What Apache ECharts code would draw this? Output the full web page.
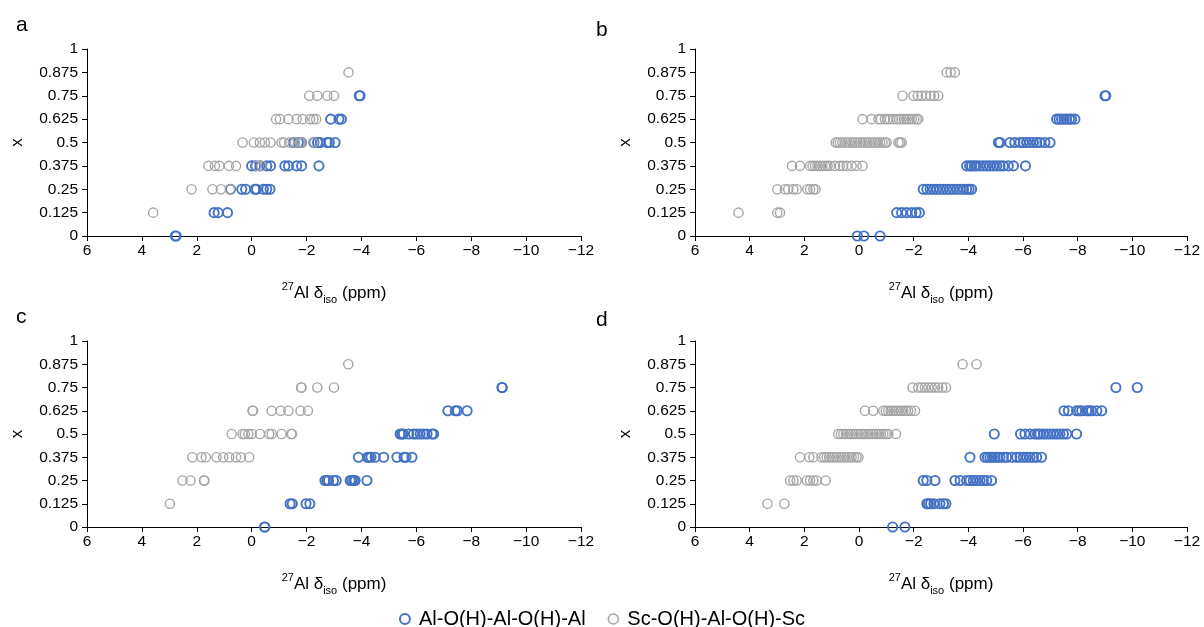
<!DOCTYPE html>
<html>
<head>
<meta charset="utf-8">
<script src="https://cdn.jsdelivr.net/npm/echarts@6/dist/echarts.min.js"></script>
<style>
  html, body { margin: 0; padding: 0; background: #fff; }
  #chart { width: 1204px; height: 627px; }
</style>
</head>
<body>
<div id="chart"></div>
<script>
// Composition levels x (y axis) and their tick labels
const xLevels = [0, 0.125, 0.25, 0.375, 0.5, 0.625, 0.75, 0.875, 1];
const yTickLabels = ['0', '0.125', '0.25', '0.375', '0.5', '0.625', '0.75', '0.875', '1'];
const seriesNames = ['Al-O(H)-Al-O(H)-Al', 'Sc-O(H)-Al-O(H)-Sc'];
const panelLetters = ['a', 'b', 'c', 'd'];

// 27Al isotropic shifts (ppm); one row per composition level x = 0 ... 1
const aAl = [
  [2.78, 2.75],
  [1.37, 1.22, 0.88],
  [0.77, 0.36, 0.22, -0.12, -0.18, -0.43, -0.55, -0.67],
  [0.0, -0.14, -0.30, -0.55, -0.69, -1.21, -1.34, -1.64, -1.82, -2.45],
  [-1.52, -1.70, -1.82, -2.27, -2.40, -2.50, -2.75, -2.83, -3.04],
  [-2.88, -3.18, -3.27],
  [-3.92, -3.95],
  [],
  []
];
const aSc = [
  [],
  [3.59],
  [2.19, 1.43, 1.12, 0.79],
  [1.58, 1.34, 1.18, 0.83, 0.57, -0.18, -0.36],
  [0.33, -0.08, -0.30, -0.48, -0.69, -1.09, -1.18, -1.37, -1.58, -1.76, -1.82, -2.25],
  [-0.89, -1.03, -1.34, -1.64, -1.86, -2.13, -2.25, -2.35],
  [-2.10, -2.39, -2.76, -3.00],
  [-3.53],
  []
];

const bAl = [
  [0.06, -0.18, -0.77],
  [-1.38, -1.56, -1.74, -1.93, -2.09, -2.21],
  [-2.35, -2.48, -2.60, -2.72, -2.84, -2.96, -3.08, -3.21, -3.33, -3.45, -3.58, -3.70, -3.82, -3.94, -4.03, -4.12],
  [-3.94, -4.05, -4.12, -4.22, -4.30, -4.42, -4.55, -4.67, -4.79, -4.92, -5.04, -5.16, -5.28, -5.46, -5.65, -6.09],
  [-5.10, -5.16, -5.52, -5.70, -5.89, -6.01, -6.13, -6.25, -6.38, -6.50, -6.62, -6.80, -6.99],
  [-7.23, -7.32, -7.41, -7.50, -7.59, -7.70, -7.78, -7.90],
  [-9.00, -9.03],
  [],
  []
];
const bSc = [
  [],
  [4.41, 2.99, 2.89],
  [2.99, 2.71, 2.59, 2.40, 2.28, 1.89, 1.79, 1.67, 1.59],
  [2.45, 2.16, 1.79, 1.70, 1.61, 1.52, 1.43, 1.34, 1.24, 1.15, 1.06, 0.88, 0.70, 0.58, 0.45, 0.27, 0.09, -0.13],
  [0.85, 0.78, 0.70, 0.61, 0.51, 0.42, 0.33, 0.24, 0.15, 0.06, -0.04, -0.13, -0.22, -0.31, -0.40, -0.50, -0.59, -0.68, -0.77, -0.86, -0.95, -1.01, -1.44, -1.50, -1.56],
  [-0.13, -0.46, -0.71, -0.80, -0.95, -1.04, -1.13, -1.25, -1.38, -1.47, -1.56, -1.65, -1.74, -1.83, -1.93, -2.02, -2.11, -2.17],
  [-1.59, -1.99, -2.15, -2.29, -2.45, -2.62, -2.75, -2.90],
  [-3.21, -3.35, -3.51],
  []
];

const cAl = [
  [-0.48, -0.47],
  [-1.40, -1.48, -1.98, -2.12],
  [-2.67, -2.74, -2.80, -2.98, -3.08, -3.59, -3.65, -3.72, -3.77, -4.20],
  [-3.89, -4.22, -4.28, -4.35, -4.50, -4.81, -5.29, -5.55, -5.62, -5.84],
  [-5.41, -5.47, -5.53, -5.72, -5.90, -6.02, -6.14, -6.26, -6.39, -6.57, -6.63],
  [-7.15, -7.42, -7.50, -7.85],
  [-9.12, -9.13],
  [],
  []
];
const cSc = [
  [],
  [2.98],
  [2.52, 2.23, 1.74, 1.72],
  [2.16, 1.83, 1.67, 1.28, 1.04, 0.82, 0.57, 0.39, 0.09],
  [0.73, 0.33, 0.25, 0.12, 0.00, -0.30, -0.64, -0.73, -1.09, -1.44, -1.47],
  [-0.03, -0.05, -0.73, -1.06, -1.34, -1.78, -2.05],
  [-1.80, -1.82, -2.39, -3.00],
  [-3.52],
  []
];

const dAl = [
  [-1.23, -1.68],
  [-2.48, -2.54, -2.62, -2.74, -2.96, -3.09, -3.18],
  [-2.35, -2.48, -2.78, -3.51, -3.70, -3.94, -4.06, -4.18, -4.30, -4.43, -4.55, -4.67, -4.85],
  [-4.06, -4.61, -4.70, -4.79, -4.88, -4.98, -5.07, -5.16, -5.28, -5.40, -5.59, -5.77, -5.89, -6.01, -6.13, -6.26, -6.38, -6.50, -6.68],
  [-4.95, -5.91, -6.07, -6.26, -6.44, -6.53, -6.62, -6.75, -6.87, -6.99, -7.11, -7.23, -7.35, -7.48, -7.60, -7.96],
  [-7.50, -7.66, -7.96, -8.06, -8.15, -8.33, -8.42, -8.51, -8.70, -8.88],
  [-9.40, -10.18],
  [],
  []
];
const dSc = [
  [],
  [3.35, 2.73],
  [2.52, 2.40, 2.28, 1.91, 1.79, 1.67, 1.55, 1.22],
  [2.16, 1.82, 1.67, 1.37, 1.27, 1.18, 1.09, 1.00, 0.91, 0.82, 0.72, 0.63, 0.54, 0.45, 0.36, 0.27, 0.18, 0.09, 0.02],
  [0.76, 0.66, 0.57, 0.48, 0.39, 0.30, 0.21, 0.12, 0.02, -0.07, -0.16, -0.25, -0.34, -0.43, -0.52, -0.62, -0.71, -0.80, -0.89, -0.98, -1.07, -1.35],
  [-0.22, -0.52, -0.89, -0.98, -1.07, -1.16, -1.26, -1.35, -1.44, -1.53, -1.62, -1.71, -1.80, -1.90, -2.05],
  [-1.96, -2.17, -2.30, -2.41, -2.54, -2.66, -2.78, -2.90, -3.05, -3.18],
  [-3.79, -4.30],
  []
];

const panels = [[aAl, aSc], [bAl, bSc], [cAl, cSc], [dAl, dSc]];

const BLUE = '#4472C4';
const GREY = '#A5A5A5';
const FONT = '"Liberation Sans", Arial, sans-serif';

// Plot areas of the 2 x 2 layout
const grids = [
  { left: 87, top: 49, width: 494, height: 187 },
  { left: 695, top: 49, width: 492, height: 187 },
  { left: 87, top: 341, width: 494, height: 186 },
  { left: 695, top: 341, width: 492, height: 186 }
];

function toPoints(rows) {
  const pts = [];
  rows.forEach((vals, k) => vals.forEach(v => pts.push([v, xLevels[k]])));
  return pts;
}

const axisLineStyle = { color: '#000', width: 1 };

const xAxes = grids.map((g, i) => ({
  gridIndex: i,
  type: 'value',
  min: -12, max: 6, interval: 2,
  inverse: true,
  splitLine: { show: false },
  axisLine: { show: true, onZero: false, lineStyle: axisLineStyle },
  axisTick: { show: true, inside: false, length: 5, lineStyle: axisLineStyle },
  axisLabel: {
    color: '#000', fontSize: 15.5, fontFamily: FONT, margin: 7,
    formatter: v => (v < 0 ? '\u2212' + (-v) : String(v))
  },
  name: '{sup|27}{m|Al δ}{sub|iso}{m| (ppm)}',
  nameLocation: 'middle',
  nameGap: 45,
  nameTextStyle: {
    color: '#000', fontFamily: FONT,
    rich: {
      m: { fontSize: 17, fontFamily: FONT, color: '#000', lineHeight: 24 },
      sup: { fontSize: 11, fontFamily: FONT, color: '#000', lineHeight: 12, verticalAlign: 'top' },
      sub: { fontSize: 11, fontFamily: FONT, color: '#000', lineHeight: 12, verticalAlign: 'bottom' }
    }
  }
}));

const yAxes = grids.map((g, i) => ({
  gridIndex: i,
  type: 'value',
  min: 0, max: 1, interval: 0.125,
  splitLine: { show: false },
  axisLine: { show: true, onZero: false, lineStyle: axisLineStyle },
  axisTick: { show: true, inside: false, length: 5, lineStyle: axisLineStyle },
  axisLabel: {
    color: '#000', fontSize: 15.5, fontFamily: FONT, margin: 9,
    formatter: v => yTickLabels[Math.round(v / 0.125)]
  },
  name: 'x',
  nameLocation: 'middle',
  nameGap: 61,
  nameTextStyle: { color: '#000', fontSize: 17, fontFamily: FONT }
}));

const series = [];
panels.forEach((pair, i) => {
  pair.forEach((rows, s) => {
    series.push({
      type: 'scatter',
      name: seriesNames[s],
      xAxisIndex: i,
      yAxisIndex: i,
      symbol: 'circle',
      symbolSize: 9.2,
      itemStyle: {
        color: 'rgba(255,255,255,0)',
        borderColor: s === 0 ? BLUE : GREY,
        borderWidth: s === 0 ? 1.9 : 1.4,
        opacity: 1
      },
      emphasis: { disabled: true },
      data: toPoints(rows)
    });
  });
});

const letterPos = [[16, 15], [596, 20], [16, 307], [596, 310]];
const graphics = panelLetters.map((t, i) => ({
  type: 'text',
  left: letterPos[i][0],
  top: letterPos[i][1],
  style: { text: t, fontSize: 21, fontFamily: FONT, fill: '#000' }
}));

const chart = echarts.init(document.getElementById('chart'), null, { renderer: 'canvas' });
chart.setOption({
  animation: false,
  backgroundColor: '#fff',
  grid: grids,
  xAxis: xAxes,
  yAxis: yAxes,
  legend: {
    data: seriesNames.map((n, s) => ({
      name: n,
      icon: 'circle',
      itemStyle: {
        color: 'rgba(255,255,255,0)',
        borderColor: s === 0 ? BLUE : GREY,
        borderWidth: s === 0 ? 2 : 1.5
      }
    })),
    left: 'center',
    top: 604,
    itemWidth: 10,
    itemHeight: 10,
    itemGap: 22,
    textStyle: { color: '#000', fontSize: 20, fontFamily: FONT, padding: [0, 0, 0, 4] }
  },
  graphic: graphics,
  series: series
});
</script>
</body>
</html>
